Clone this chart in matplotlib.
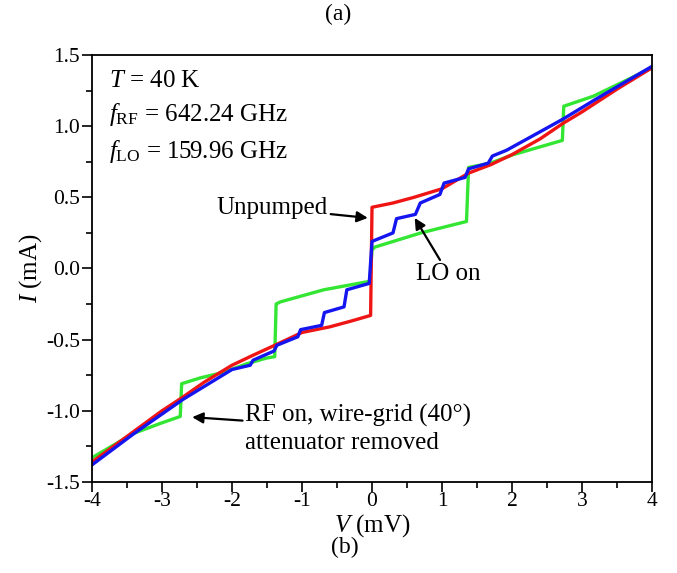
import matplotlib
matplotlib.use("Agg")
import matplotlib.pyplot as plt
from matplotlib.ticker import MultipleLocator

plt.rcParams['font.family'] = ['Liberation Serif', 'DejaVu Serif']
plt.rcParams['mathtext.fontset'] = 'custom'
plt.rcParams['mathtext.rm'] = 'Liberation Serif'
plt.rcParams['mathtext.it'] = 'Liberation Serif:italic'

# unpumped I-V curve (mV, mA)
v_unpumped = [-4.0, -3.5, -3.0, -2.72, -2.4, -2.0, -1.7, -1.39, -1.0, -0.6, -0.3, -0.02,
              0.0, 0.3, 0.6, 1.0, 1.38, 1.7, 2.0, 2.4, 2.73, 3.0, 3.5, 4.0]
i_unpumped = [-1.36, -1.18, -1.00, -0.91, -0.80, -0.68, -0.61, -0.54, -0.45, -0.41, -0.37, -0.33,
              0.43, 0.46, 0.50, 0.56, 0.67, 0.73, 0.80, 0.91, 1.02, 1.10, 1.26, 1.41]

# RF on, wire-grid attenuator removed
v_rf = [-4.0, -3.41, -3.03, -2.74, -2.72, -2.46, -2.12, -1.79, -1.51, -1.39, -1.37, -1.31,
        -0.69, -0.03, 0.0, 0.04, 0.7, 1.35, 1.38, 1.69, 2.02, 2.72, 2.74, 3.16, 3.54, 4.0]
i_rf = [-1.33, -1.16, -1.09, -1.04, -0.81, -0.77, -0.73, -0.67, -0.63, -0.62, -0.25, -0.235,
        -0.15, -0.09, 0.13, 0.15, 0.25, 0.33, 0.71, 0.74, 0.80, 0.90, 1.14, 1.21, 1.30, 1.41]

# LO on
v_lo = [-4.0, -3.4, -2.7, -2.0, -1.74, -1.70, -1.40, -1.36, -1.06, -1.02, -0.72, -0.68,
        -0.40, -0.36, -0.04, 0.0, 0.30, 0.35, 0.62, 0.69, 0.97, 1.03, 1.33, 1.38,
        1.66, 1.72, 1.92, 2.4, 2.73, 3.2, 4.0]
i_lo = [-1.38, -1.16, -0.92, -0.71, -0.68, -0.645, -0.58, -0.54, -0.48, -0.43, -0.40, -0.31,
        -0.27, -0.15, -0.105, 0.19, 0.25, 0.35, 0.38, 0.46, 0.52, 0.60, 0.64, 0.70,
        0.74, 0.79, 0.83, 0.96, 1.05, 1.19, 1.42]

fig = plt.figure(figsize=(6.77, 5.73), dpi=100)
ax = fig.add_axes([0.136, 0.159, 0.827, 0.745])

lw = 2.4
ax.plot(v_rf, i_rf, color='#33e633', lw=lw)
ax.plot(v_unpumped, i_unpumped, color='#f01515', lw=lw)
ax.plot(v_lo, i_lo, color='#1515f0', lw=lw)

ax.set_xlim(-4, 4)
ax.set_ylim(-1.5, 1.5)
ax.xaxis.set_major_locator(MultipleLocator(1))
ax.xaxis.set_minor_locator(MultipleLocator(0.5))
ax.yaxis.set_major_locator(MultipleLocator(0.5))
ax.yaxis.set_minor_locator(MultipleLocator(0.25))
ax.xaxis.set_major_formatter(plt.FuncFormatter(lambda v, p: '%d' % v))
ax.yaxis.set_major_formatter(plt.FuncFormatter(lambda v, p: '%.1f' % v))
ax.tick_params(which='major', direction='out', length=7, width=1.2, labelsize=15.5, pad=1.5)
ax.tick_params(axis='x', which='major', pad=0.5)
ax.tick_params(which='minor', direction='out', length=4, width=1.2)
for s in ax.spines.values():
    s.set_linewidth(1.3)

ax.set_xlabel(r'$V$ (mV)', fontsize=18)
ax.xaxis.set_label_coords(0.5, -0.072)
ax.set_ylabel(r'$I$ (mA)', fontsize=18)
ax.yaxis.set_label_coords(-0.085, 0.5)

txt = 18
ax.text(0.03, 0.94, r'$T$ = 40 K', transform=ax.transAxes, fontsize=txt, va='center')
ax.text(0.03, 0.86, r'$f_{\rm RF}$ = 642.24 GHz', transform=ax.transAxes, fontsize=txt, va='center')
ax.text(0.03, 0.775, r'$f_{\rm LO}$ = 159.96 GHz', transform=ax.transAxes, fontsize=txt, va='center')

arrow = dict(arrowstyle='-|>', color='black', lw=1.6, mutation_scale=16, shrinkA=0, shrinkB=0)
ax.annotate('Unpumped', xy=(-0.06, 0.355), xytext=(-0.63, 0.424), fontsize=txt,
            ha='right', va='center', arrowprops=arrow)
ax.annotate('LO on', xy=(0.61, 0.355), xytext=(1.09, 0.04), fontsize=txt,
            ha='center', va='top', arrowprops=arrow)
ax.annotate('RF on, wire-grid (40°)\nattenuator removed', xy=(-2.57, -1.045), xytext=(-1.81, -1.125),
            fontsize=txt, ha='left', va='center', linespacing=1.3, arrowprops=arrow)

fig.text(0.5, 0.974, '(a)', fontsize=17, ha='center', va='center')
fig.text(0.51, 0.044, '(b)', fontsize=17, ha='center', va='center')

fig.savefig('out.png', dpi=100)
